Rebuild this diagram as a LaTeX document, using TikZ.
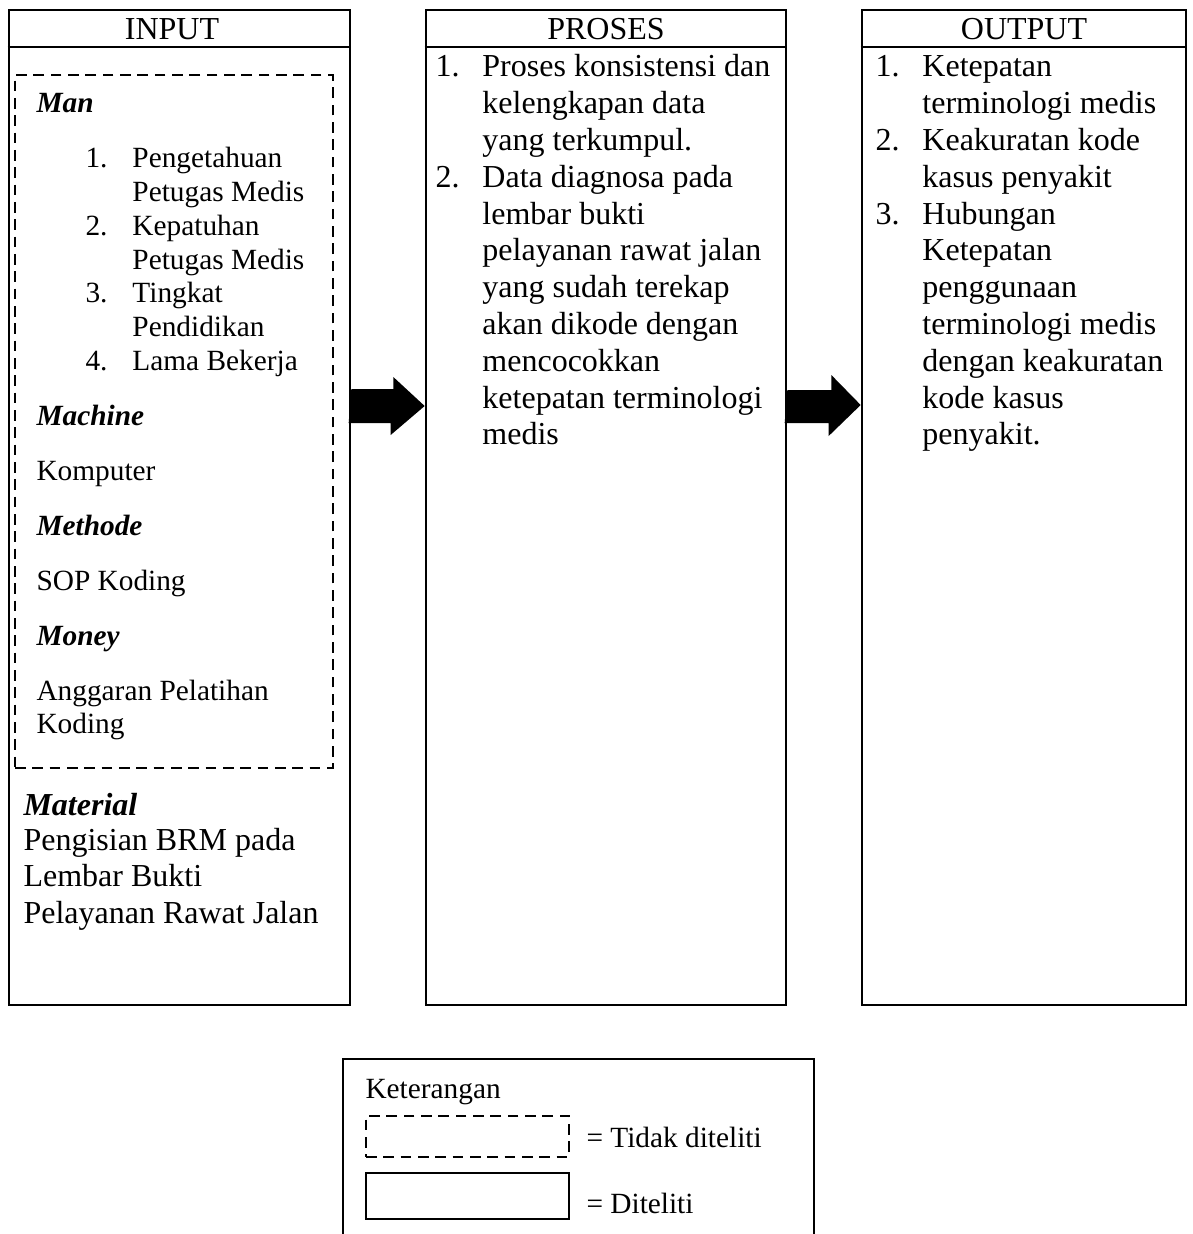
\documentclass[tikz,border=0pt]{standalone}
\usepackage{fontspec}
\setmainfont{Liberation Serif}
\usetikzlibrary{positioning,
	fit,
	calc}
\tikzstyle{col}=[draw, line width=1pt, inner sep=0]
\tikzstyle{nt}=[draw, line width=0.95pt, dash pattern=on 4pt off 2.5pt, inner sep=0]
\tikzstyle{hd}=[anchor=base, inner sep=0, font=\fontsize{12}{13.8}\selectfont]
\tikzstyle{txt}=[anchor=base west, inner sep=0, font=\fontsize{12}{13.8}\selectfont]
\tikzstyle{sm}=[anchor=base west, inner sep=0, font=\fontsize{11}{12.65}\selectfont]
\tikzstyle{cat}=[anchor=base west, inner sep=0, font=\fontsize{11}{12.65}\selectfont\bfseries\itshape]
\tikzstyle{arw}=[fill=black]

\begin{document}
\begin{tikzpicture}[x=0.375pt, y=-0.375pt]
        \useasboundingbox (0,0) rectangle (1192,1234);
        % three columns
        \coordinate (in-nw) at (9,10);    \coordinate (in-se) at (350,1005);
        \coordinate (pr-nw) at (426,10);  \coordinate (pr-se) at (786,1005);
        \coordinate (out-nw) at (862,10); \coordinate (out-se) at (1186,1005);
        \node[col, fit=(in-nw)(in-se)] (input) {};
        \node[col, fit=(pr-nw)(pr-se)] (proses) {};
        \node[col, fit=(out-nw)(out-se)] (output) {};
        \draw[line width=1pt] (input.west |- 0,47) -- (input.east |- 0,47);
        \draw[line width=1pt] (proses.west |- 0,47) -- (proses.east |- 0,47);
        \draw[line width=1pt] (output.west |- 0,47) -- (output.east |- 0,47);
        \node[hd] (inhead) at (172,40) {INPUT};
        \node[hd] (prhead) at (606,40) {PROSES};
        \node[hd] (outhead) at (1024,40) {OUTPUT};
        % not examined part of input
        \coordinate (nt-nw) at (15,75); \coordinate (nt-se) at (333,768);
        \node[nt, fit=(nt-nw)(nt-se)] (notexam) {};
        \node[cat] (man) at (36,113) {Man};
        \node[sm] (manlist) at (85,168) {\begin{tabular}[t]{@{}p{17.6pt}@{}l@{}}
            1. & Pengetahuan \\ & Petugas Medis \\
            2. & Kepatuhan \\ & Petugas Medis \\
            3. & Tingkat \\ & Pendidikan \\
            4. & Lama Bekerja
        \end{tabular}};
        \node[cat] (machine) at (36,425) {Machine};
        \node[sm] (komputer) at (36,480) {Komputer};
        \node[cat] (methode) at (36,535) {Methode};
        \node[sm] (sop) at (36,590) {SOP Koding};
        \node[cat] (money) at (36,645) {Money};
        \node[sm] (anggaran) at (36,700) {\begin{tabular}[t]{@{}l@{}}Anggaran Pelatihan\\Koding\end{tabular}};
        \node[txt, font=\fontsize{12}{13.8}\selectfont\bfseries\itshape] (material) at (23,815) {Material};
        \node[txt] (brm) at (23,850) {\begin{tabular}[t]{@{}l@{}}Pengisian BRM pada\\Lembar Bukti\\Pelayanan Rawat Jalan\end{tabular}};
        % process and output lists
        \node[txt] (prlist) at (435,77) {\begin{tabular}[t]{@{}p{17.6pt}@{}l@{}}
            1. & Proses konsistensi dan \\ & kelengkapan data \\ & yang terkumpul. \\
            2. & Data diagnosa pada \\ & lembar bukti \\ & pelayanan rawat jalan \\
               & yang sudah terekap \\ & akan dikode dengan \\ & mencocokkan \\
               & ketepatan terminologi \\ & medis
        \end{tabular}};
        \node[txt] (outlist) at (875,77) {\begin{tabular}[t]{@{}p{17.6pt}@{}l@{}}
            1. & Ketepatan \\ & terminologi medis \\
            2. & Keakuratan kode \\ & kasus penyakit \\
            3. & Hubungan \\ & Ketepatan \\ & penggunaan \\ & terminologi medis \\
               & dengan keakuratan \\ & kode kasus \\ & penyakit.
        \end{tabular}};
        % block arrows
        \fill[arw] (input.east |- 0,389) -- ++(42,0) -- ++(0,-12) -- (proses.west |- 0,406)
            -- ++(-34,29) -- ++(0,-12) -- ++(-42,0) -- cycle;
        \fill[arw] (proses.east |- 0,390) -- ++(44,0) -- ++(0,-15) -- (output.west |- 0,405)
            -- ++(-32,31) -- ++(0,-13) -- ++(-44,0) -- cycle;
        % legend
        \draw[line width=1pt] (343,1234) -- (343,1059) -- (814,1059) -- (814,1234);
        \node[sm] (ket) at (365,1098) {Keterangan};
        \coordinate (k1) at (366,1116); \coordinate (k2) at (569,1157);
        \coordinate (k3) at (366,1173); \coordinate (k4) at (569,1219);
        \node[nt, fit=(k1)(k2)] (ntkey) {};
        \node[col, fit=(k3)(k4)] (colkey) {};
        \node[sm] (ntlabel) at (586,1147) {= Tidak diteliti};
        \node[sm] (collabel) at (586,1213) {= Diteliti};
    \end{tikzpicture}
\end{document}
